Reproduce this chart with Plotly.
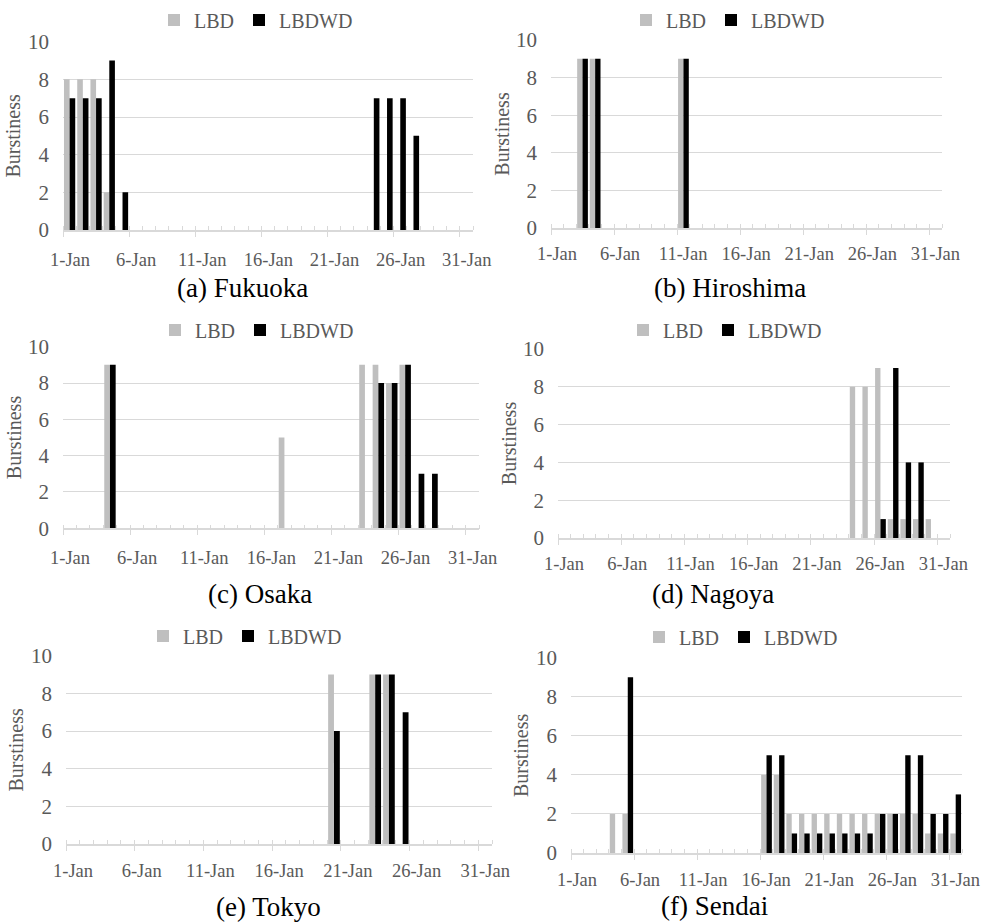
import plotly.graph_objects as go

# ---------------- data ----------------
days = list(range(1, 32))  # 1-Jan .. 31-Jan
tick_labels = ["1-Jan", "6-Jan", "11-Jan", "16-Jan", "21-Jan", "26-Jan", "31-Jan"]
tick_positions = [0.5, 5.5, 10.5, 15.5, 20.5, 25.5, 30.5]

captions = ["(a) Fukuoka", "(b) Hiroshima", "(c) Osaka", "(d) Nagoya", "(e) Tokyo", "(f) Sendai"]

fukuoka_lbd   = [8, 8, 8, 2, 0, 0, 0, 0, 0, 0, 0, 0, 0, 0, 0, 0, 0, 0, 0, 0, 0, 0, 0, 0, 0, 0, 0, 0, 0, 0, 0]
fukuoka_lbdwd = [7, 7, 7, 9, 2, 0, 0, 0, 0, 0, 0, 0, 0, 0, 0, 0, 0, 0, 0, 0, 0, 0, 0, 7, 7, 7, 5, 0, 0, 0, 0]

hiroshima_lbd   = [0, 0, 9, 9, 0, 0, 0, 0, 0, 0, 9, 0, 0, 0, 0, 0, 0, 0, 0, 0, 0, 0, 0, 0, 0, 0, 0, 0, 0, 0, 0]
hiroshima_lbdwd = [0, 0, 9, 9, 0, 0, 0, 0, 0, 0, 9, 0, 0, 0, 0, 0, 0, 0, 0, 0, 0, 0, 0, 0, 0, 0, 0, 0, 0, 0, 0]

osaka_lbd   = [0, 0, 0, 9, 0, 0, 0, 0, 0, 0, 0, 0, 0, 0, 0, 0, 5, 0, 0, 0, 0, 0, 9, 9, 8, 9, 0, 0, 0, 0, 0]
osaka_lbdwd = [0, 0, 0, 9, 0, 0, 0, 0, 0, 0, 0, 0, 0, 0, 0, 0, 0, 0, 0, 0, 0, 0, 0, 8, 8, 9, 3, 3, 0, 0, 0]

nagoya_lbd   = [0, 0, 0, 0, 0, 0, 0, 0, 0, 0, 0, 0, 0, 0, 0, 0, 0, 0, 0, 0, 0, 0, 0, 8, 8, 9, 1, 1, 1, 1, 0]
nagoya_lbdwd = [0, 0, 0, 0, 0, 0, 0, 0, 0, 0, 0, 0, 0, 0, 0, 0, 0, 0, 0, 0, 0, 0, 0, 0, 0, 1, 9, 4, 4, 0, 0]

tokyo_lbd   = [0, 0, 0, 0, 0, 0, 0, 0, 0, 0, 0, 0, 0, 0, 0, 0, 0, 0, 0, 9, 0, 0, 9, 9, 0, 0, 0, 0, 0, 0, 0]
tokyo_lbdwd = [0, 0, 0, 0, 0, 0, 0, 0, 0, 0, 0, 0, 0, 0, 0, 0, 0, 0, 0, 6, 0, 0, 9, 9, 7, 0, 0, 0, 0, 0, 0]

sendai_lbd   = [0, 0, 0, 2, 2, 0, 0, 0, 0, 0, 0, 0, 0, 0, 0, 4, 4, 2, 2, 2, 2, 2, 2, 2, 2, 2, 2, 2, 1, 1, 1]
sendai_lbdwd = [0, 0, 0, 0, 9, 0, 0, 0, 0, 0, 0, 0, 0, 0, 0, 5, 5, 1, 1, 1, 1, 1, 1, 1, 2, 2, 5, 5, 2, 2, 3]

series = [
    (fukuoka_lbd, fukuoka_lbdwd),
    (hiroshima_lbd, hiroshima_lbdwd),
    (osaka_lbd, osaka_lbdwd),
    (nagoya_lbd, nagoya_lbdwd),
    (tokyo_lbd, tokyo_lbdwd),
    (sendai_lbd, sendai_lbdwd),
]

# ---------------- layout (pixels) ----------------
W, H = 984, 923
# plot areas: (x0, x1, ytop, ybottom)
areas = [
    (63, 473, 41.7, 230),
    (551, 942, 40, 228),
    (63, 479, 346.7, 528.3),
    (558, 950, 349, 538),
    (66, 492, 655.7, 844),
    (571, 962, 657.7, 853),
]
xlabel_standoff = [7, 3, 7, 3, 4, 4]
legend_pos = [(256, 20), (728, 20), (257, 330), (725, 330), (245, 636), (741, 637)]
caption_pos = [(242, 288), (730, 288), (260, 594), (713, 594), (268, 907), (714, 906)]

GRAY = "#bfbfbf"
BLACK = "#000000"
TXT = "#595959"
GRID = "#d9d9d9"
FONT = "Liberation Serif, Times New Roman, serif"

fig = go.Figure()
layout = dict(
    width=W, height=H,
    margin=dict(l=0, r=0, t=0, b=0),
    paper_bgcolor="white", plot_bgcolor="white",
    barmode="group", bargap=0.15, bargroupgap=0,
    font=dict(family=FONT, color=TXT),
)

for i, ((lbd, lbdwd), (x0, x1, yt, yb)) in enumerate(zip(series, areas)):
    n = i + 1
    xa = "x" if n == 1 else f"x{n}"
    ya = "y" if n == 1 else f"y{n}"
    lg = "legend" if n == 1 else f"legend{n}"
    fig.add_trace(go.Bar(x=days, y=lbd, name="LBD", marker=dict(color=GRAY, line=dict(width=0)),
                         xaxis=xa, yaxis=ya, legend=lg))
    fig.add_trace(go.Bar(x=days, y=lbdwd, name="LBDWD", marker=dict(color=BLACK, line=dict(width=0)),
                         xaxis=xa, yaxis=ya, legend=lg))
    shift = int(round((x1 - x0) / 31 / 2))
    xkey = "xaxis" if n == 1 else f"xaxis{n}"
    ykey = "yaxis" if n == 1 else f"yaxis{n}"
    layout[xkey] = dict(
        domain=[x0 / W, x1 / W], anchor=ya,
        range=[0.5, 31.5], tickmode="array", tickvals=tick_positions, ticktext=tick_labels,
        ticks="outside", ticklen=5, tickcolor=GRID, tickwidth=1.3,
        showline=True, linecolor=GRID, linewidth=1.5,
        showgrid=False, zeroline=False,
        ticklabelshift=shift, ticklabelstandoff=xlabel_standoff[i],
        tickfont=dict(family=FONT, size=18.5, color=TXT),
        minor=dict(tickmode="linear", tick0=0.5, dtick=1, ticks="inside", ticklen=4,
                   tickcolor=GRID, tickwidth=1.3, showgrid=False),
        automargin=False, fixedrange=True,
    )
    layout[ykey] = dict(
        domain=[1 - yb / H, 1 - yt / H], anchor=xa,
        range=[0, 10], tickmode="linear", tick0=0, dtick=2,
        showgrid=True, gridcolor=GRID, gridwidth=1.3,
        zeroline=False, showline=False, ticks="",
        ticklabelstandoff=13,
        tickfont=dict(family=FONT, size=21, color=TXT),
        title=dict(text="Burstiness", font=dict(family=FONT, size=20, color=TXT), standoff=1),
        automargin=False, fixedrange=True,
    )
    lx, ly = legend_pos[i]
    layout[lg] = dict(
        orientation="h", x=lx / W, y=1 - ly / H, xanchor="center", yanchor="middle",
        font=dict(family=FONT, size=20, color=TXT), bgcolor="rgba(0,0,0,0)",
        itemclick=False, itemdoubleclick=False, tracegroupgap=0,
    )

annotations = []
for cap, (cx, cy) in zip(captions, caption_pos):
    annotations.append(dict(text=cap, x=cx / W, y=1 - cy / H, xref="paper", yref="paper",
                            xanchor="center", yanchor="middle", showarrow=False,
                            font=dict(family=FONT, size=27, color="#000000")))
layout["annotations"] = annotations

fig.update_layout(**layout)
fig.write_html("out.html", config={"displayModeBar": False},
               post_script="document.body.style.margin='0';document.body.style.padding='0';")
